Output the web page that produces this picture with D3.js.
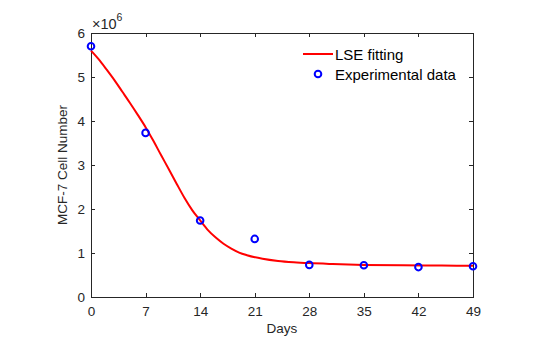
<!DOCTYPE html>
<html>
<head>
<meta charset="utf-8">
<script src="https://cdn.jsdelivr.net/npm/d3@7"></script>
<style>
  html, body { margin: 0; padding: 0; background: #fff; }
  svg { display: block; font-family: Arial, "Liberation Sans", Helvetica, sans-serif; }
</style>
</head>
<body>
<svg id="chart" width="542" height="350"></svg>
<script>
// ---- data ----
const expDays = [0, 7, 14, 21, 28, 35, 42, 49];
const expValues = [5.70e6, 3.73e6, 1.74e6, 1.32e6, 0.73e6, 0.72e6, 0.68e6, 0.70e6];

const fitDays = [0, 1, 2, 3, 4, 5, 6, 7, 8, 9, 10, 11, 12, 13, 14, 15, 16, 17, 18, 19, 20, 22, 24, 26, 28, 31, 35, 40, 45, 49];
const fitValues = [5.60e6, 5.40e6, 5.17e6, 4.93e6, 4.67e6, 4.41e6, 4.14e6, 3.86e6, 3.55e6, 3.22e6, 2.90e6, 2.57e6, 2.25e6, 1.97e6, 1.74e6, 1.52e6, 1.35e6, 1.21e6, 1.10e6, 1.01e6, 0.95e6, 0.87e6, 0.82e6, 0.79e6, 0.77e6, 0.75e6, 0.73e6, 0.72e6, 0.715e6, 0.71e6];

const xTicks = [0, 7, 14, 21, 28, 35, 42, 49];
const yTicks = [0, 1, 2, 3, 4, 5, 6];
const legendLabels = ["LSE fitting", "Experimental data"];
const xLabel = "Days";
const yLabel = "MCF-7 Cell Number";

// ---- layout ----
const pL = 91, pR = 473, pT = 33, pB = 297;
const axisColor = "#262626";

const svg = d3.select("#chart");
const x = d3.scaleLinear().domain([0, 49]).range([pL, pR]);
const y = d3.scaleLinear().domain([0, 6e6]).range([pB, pT]);

// box
svg.append("rect")
  .attr("x", pL).attr("y", pT)
  .attr("width", pR - pL).attr("height", pB - pT)
  .attr("fill", "none").attr("stroke", axisColor).attr("stroke-width", 1)
  .attr("shape-rendering", "crispEdges");

const tickLen = 4;
const gx = svg.append("g").attr("transform", `translate(0,${pB})`)
  .call(d3.axisBottom(x).tickValues(xTicks).tickSize(-tickLen).tickPadding(9).tickFormat(d3.format("d")));
const gxt = svg.append("g").attr("transform", `translate(0,${pT})`)
  .call(d3.axisTop(x).tickValues(xTicks).tickSize(-tickLen).tickFormat(""));
const gy = svg.append("g").attr("transform", `translate(${pL},0)`)
  .call(d3.axisLeft(y).tickValues(yTicks.map(v => v * 1e6)).tickSize(-tickLen).tickPadding(6).tickFormat(d => d3.format("d")(d / 1e6)));
const gyr = svg.append("g").attr("transform", `translate(${pR},0)`)
  .call(d3.axisRight(y).tickValues(yTicks.map(v => v * 1e6)).tickSize(-tickLen).tickFormat(""));

[gx, gxt, gy, gyr].forEach(g => {
  g.select(".domain").remove();
  g.selectAll(".tick line").attr("stroke", axisColor).attr("shape-rendering", "crispEdges");
  g.selectAll(".tick text").attr("fill", axisColor).style("font-size", "13.5px").style("font-family", "Arial, 'Liberation Sans', sans-serif");
});

// exponent label
const expo = svg.append("text")
  .attr("x", pL + 1).attr("y", 28.5)
  .attr("fill", axisColor)
  .style("font-size", "14.5px");
expo.append("tspan").text("\u00d710");
expo.append("tspan").attr("dy", -8).style("font-size", "10.5px").text("6");

// axis labels
svg.append("text")
  .attr("x", (pL + pR) / 2).attr("y", 333)
  .attr("text-anchor", "middle").attr("fill", axisColor)
  .style("font-size", "13.5px").text(xLabel);

svg.append("text")
  .attr("transform", `translate(67,${(pT + pB) / 2}) rotate(-90)`)
  .attr("text-anchor", "middle").attr("fill", axisColor)
  .style("font-size", "13.5px").text(yLabel);

// fitted curve
const line = d3.line()
  .x((d, i) => x(fitDays[i]))
  .y(d => y(d))
  .curve(d3.curveMonotoneX);
svg.append("path")
  .datum(fitValues)
  .attr("d", line)
  .attr("fill", "none")
  .attr("stroke", "#ff0000")
  .attr("stroke-width", 2);

// experimental points
svg.append("g").selectAll("circle")
  .data(expValues)
  .join("circle")
  .attr("cx", (d, i) => x(expDays[i]))
  .attr("cy", d => y(d))
  .attr("r", 3.3)
  .attr("fill", "none")
  .attr("stroke", "#0000ff")
  .attr("stroke-width", 2);

// legend
const lg = svg.append("g");
lg.append("line")
  .attr("x1", 303).attr("x2", 333).attr("y1", 54).attr("y2", 54)
  .attr("stroke", "#ff0000").attr("stroke-width", 2);
lg.append("text")
  .attr("x", 335).attr("y", 59.5)
  .attr("fill", "#000").style("font-size", "15px").text(legendLabels[0]);
lg.append("circle")
  .attr("cx", 318).attr("cy", 74).attr("r", 3.3)
  .attr("fill", "none").attr("stroke", "#0000ff").attr("stroke-width", 2);
lg.append("text")
  .attr("x", 335).attr("y", 80)
  .attr("fill", "#000").style("font-size", "15px").text(legendLabels[1]);
</script>
</body>
</html>
